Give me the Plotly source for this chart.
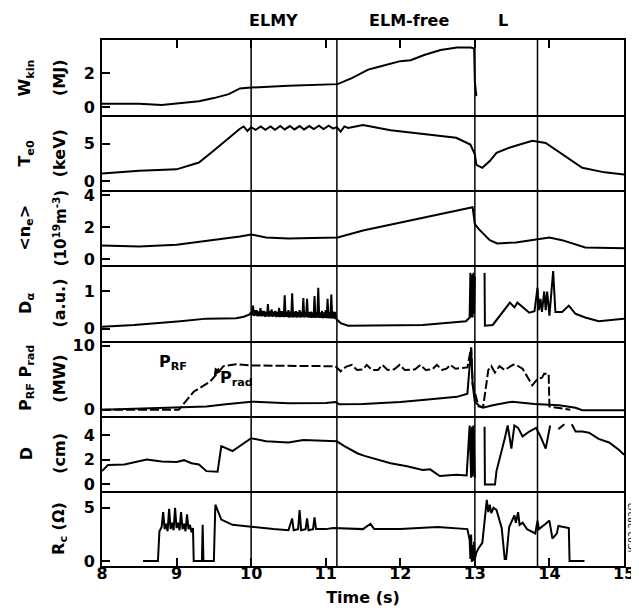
import plotly.graph_objects as go
from plotly.subplots import make_subplots

# ---------------- data ----------------
W_t = [8.0, 8.5, 8.8, 9.0, 9.3, 9.5, 9.7, 9.85, 10.0, 10.5, 11.0, 11.16, 11.35, 11.57, 11.74,
       12.0, 12.14, 12.32, 12.54, 12.76, 12.94, 12.99, 13.0, 13.02]
W_kin = [0.2, 0.2, 0.12, 0.23, 0.35, 0.53, 0.76, 1.1, 1.15, 1.25, 1.35, 1.35, 1.7, 2.2, 2.4,
         2.7, 2.75, 3.06, 3.35, 3.5, 3.5, 3.45, 1.5, 0.65]

Te_t = [8.0, 8.5, 9.0, 9.3, 9.5, 9.7, 9.85, 9.9, 9.95, 10.0, 10.06, 10.13, 10.19, 10.26, 10.32,
        10.39, 10.45, 10.52, 10.58, 10.65, 10.71, 10.78, 10.84, 10.91, 10.97, 11.04, 11.1, 11.15,
        11.2, 11.25, 11.3, 11.4, 11.5, 11.87, 12.3, 12.75, 12.94, 13.0, 13.02, 13.1, 13.2, 13.29,
        13.47, 13.77, 13.95, 14.17, 14.44, 14.74, 15.0]
Te0 = [1.05, 1.4, 1.6, 2.5, 4.1, 5.8, 7.0, 7.3, 6.7, 7.2, 6.85, 7.3, 6.85, 7.3, 6.85,
       7.35, 6.9, 7.35, 6.9, 7.35, 6.9, 7.35, 6.95, 7.4, 6.95, 7.4, 7.0, 7.2,
       6.6, 7.3, 7.1, 7.3, 7.5, 6.8, 6.3, 5.8, 4.9, 3.6, 2.2, 1.8, 2.7, 3.8,
       4.5, 5.4, 5.1, 3.6, 1.8, 1.2, 0.9]

ne_t = [8.0, 8.5, 9.0, 9.5, 9.85, 10.0, 10.2, 10.5, 11.0, 11.16, 11.5, 12.0, 12.5, 12.97,
        13.0, 13.05, 13.2, 13.3, 13.55, 14.0, 14.17, 14.48, 15.0]
ne = [0.87, 0.8, 0.92, 1.2, 1.43, 1.56, 1.37, 1.3, 1.37, 1.37, 1.8, 2.3, 2.8, 3.25,
      2.2, 1.9, 1.2, 1.0, 1.06, 1.37, 1.2, 0.75, 0.7]

Da_t = [8.0, 8.43, 9.05, 9.4, 9.8, 9.9, 9.98,
        10.0, 10.0125, 10.025, 10.0375, 10.05, 10.0625, 10.075, 10.0875, 10.1, 10.1125, 10.125,
        10.1375, 10.15, 10.1625, 10.175, 10.1875, 10.2, 10.2125, 10.225, 10.2375, 10.25, 10.2625,
        10.275, 10.2875, 10.3, 10.3125, 10.325, 10.3375, 10.35, 10.3625, 10.375, 10.3875, 10.4,
        10.4125, 10.425, 10.4375, 10.45, 10.4625, 10.475, 10.4875, 10.5, 10.5125, 10.525,
        10.5375, 10.55, 10.5625, 10.575, 10.5875, 10.6, 10.6125, 10.625, 10.6375, 10.65, 10.6625,
        10.675, 10.6875, 10.7, 10.7125, 10.725, 10.7375, 10.75, 10.7625, 10.775, 10.7875, 10.8,
        10.8125, 10.825, 10.8375, 10.85, 10.8625, 10.875, 10.8875, 10.9, 10.9125, 10.925,
        10.9375, 10.95, 10.9625, 10.975, 10.9875, 11.0, 11.0125, 11.025, 11.0375, 11.05, 11.0625,
        11.075, 11.0875, 11.1, 11.1125, 11.125, 11.1375, 11.15,
        11.2, 11.3, 12.3, 12.88, 12.93, 12.94, 12.95, 12.96, 12.97, 12.98, 12.99, 13.0, 13.01,
        13.13, 13.135, 13.24, 13.47, 13.53, 13.57, 13.73, 13.8, 13.84, 13.86, 13.88, 13.9,
        13.93, 13.95, 13.97, 14.0, 14.05, 14.08, 14.17, 14.26, 14.35, 14.48, 14.66, 15.0]
Da = [0.05, 0.1, 0.2, 0.27, 0.28, 0.32, 0.38,
      0.45, 0.36, 0.62, 0.34, 0.5, 0.35, 0.5, 0.33, 0.46, 0.34, 0.55,
      0.33, 0.48, 0.34, 0.48, 0.32, 0.45, 0.33, 0.66, 0.32, 0.47, 0.33,
      0.52, 0.32, 0.46, 0.33, 0.48, 0.31, 0.45, 0.32, 0.56, 0.31, 0.47,
      0.32, 0.47, 0.31, 0.9, 0.32, 0.46, 0.31, 0.5, 0.3, 0.46,
      0.31, 0.95, 0.3, 0.46, 0.31, 0.47, 0.3, 0.45, 0.31, 0.5, 0.3,
      0.45, 0.31, 0.82, 0.3, 0.45, 0.31, 0.8, 0.3, 0.44, 0.3, 0.46,
      0.29, 0.44, 0.3, 0.88, 0.29, 0.44, 0.3, 1.1, 0.29, 0.44,
      0.29, 0.48, 0.28, 0.44, 0.29, 0.5, 0.28, 0.8, 0.28, 0.45, 0.28,
      0.92, 0.28, 0.46, 0.27, 0.45, 0.27, 0.25,
      0.15, 0.08, 0.1, 0.2, 0.3, 1.5, 0.3, 1.45, 0.3, 1.5, 0.4, 1.4, None,
      1.5, 0.08, 0.1, 0.7, 0.57, 0.7, 0.43, 0.47, 1.1, 0.5, 0.8, 0.45,
      1.0, 0.5, 1.0, 0.35, 1.55, 0.45, 0.45, 0.62, 0.4, 0.3, 0.2, 0.27]

Prf_t = [8.0, 9.03, 9.23, 9.45, 9.63, 9.8, 10.0, 10.5, 11.0, 11.13, 11.2, 11.27, 11.35, 11.42,
         11.5, 11.55, 11.62, 11.7, 11.76, 11.83, 11.92, 11.99, 12.06, 12.2, 12.27, 12.34,
         12.43, 12.49, 12.56, 12.62, 12.67, 12.74, 12.9, 12.95, 12.97, 13.05, 13.11, 13.14,
         13.18, 13.22, 13.27, 13.33, 13.4, 13.51, 13.55, 13.64, 13.71, 13.77, 13.84, 13.9,
         13.93, 13.99, 14.0, 14.04, 14.28]
P_RF = [0.0, 0.0, 2.8, 4.4, 6.8, 7.1, 6.9, 6.8, 6.8, 6.8, 6.0, 6.7, 7.0, 6.2,
        6.3, 7.0, 6.2, 6.2, 7.0, 6.2, 6.3, 7.0, 6.2, 6.3, 7.0, 6.2,
        6.3, 7.0, 6.2, 6.4, 7.0, 6.4, 6.6, 9.7, 4.0, 0.5, 0.4, 2.8,
        6.2, 6.8, 5.8, 6.8, 6.2, 7.0, 7.0, 6.4, 5.0, 3.8, 4.8, 5.0,
        5.6, 5.6, 0.5, 0.4, 0.0]

Prad_t = [8.0, 9.4, 9.63, 10.0, 10.5, 11.0, 11.13, 11.18, 11.5, 12.0, 12.3, 12.58, 12.76,
          12.9, 12.95, 12.97, 13.0, 13.07, 13.11, 13.24, 13.5, 13.8, 14.13, 14.35, 14.44, 15.0]
P_rad = [0.0, 0.5, 0.8, 1.25, 1.0, 1.05, 1.2, 0.85, 0.9, 1.2, 1.5, 1.75, 2.0,
         2.5, 9.7, 4.0, 1.2, 0.5, 0.3, 0.7, 1.25, 0.9, 0.7, 0.3, -0.1, -0.1]

D_t = [8.0, 8.08, 8.3, 8.6, 8.8, 9.0, 9.1, 9.2, 9.3, 9.4, 9.55, 9.6, 9.75, 9.85, 10.0,
       10.2, 10.5, 10.7, 11.0, 11.15, 11.25, 11.43, 11.52, 11.65, 11.87, 12.09, 12.3, 12.4,
       12.53, 12.75, 12.89, 12.93, 12.95, 12.96, 12.97, 12.98, 13.0, 13.01,
       13.13, 13.135, 13.27, 13.29, 13.4, 13.44, 13.49, 13.53, 13.58, 13.64, 13.73, 13.82,
       13.88, 13.95, 14.01, 14.05, 14.12, 14.2, 14.25, 14.3, 14.35, 14.44, 14.53, 14.66,
       14.8, 14.93, 15.0]
D = [1.05, 1.55, 1.6, 2.0, 1.85, 1.8, 1.95, 1.7, 1.6, 1.05, 1.0, 3.1, 2.7, 3.1, 3.75,
     3.5, 3.4, 3.6, 3.5, 3.5, 3.1, 2.5, 2.3, 2.1, 1.7, 1.45, 1.15, 1.2,
     0.65, 0.76, 0.7, 4.8, 0.5, 4.7, 0.6, 4.8, 0.5, None,
     4.7, -0.05, -0.05, 1.05, 3.7, 4.8, 2.9, 4.8, 4.6, 3.9, 4.3, 4.6,
     3.9, 2.9, 4.8, None, 4.5, 4.9, None, 4.9, 4.3, 4.3, 4.2, 3.7,
     3.4, 2.8, 2.4]

Rc_t = [8.55, 8.75, 8.77, 8.8, 8.82, 8.84, 8.86, 8.88, 8.9, 8.92, 8.94, 8.96, 8.98, 9.0,
        9.02, 9.04, 9.06, 9.08, 9.1, 9.12, 9.14, 9.16, 9.18, 9.2, 9.22, 9.23, 9.34, 9.35,
        9.36, 9.5, 9.52, 9.56, 9.6, 9.75, 10.0, 10.3, 10.5, 10.55, 10.57, 10.63, 10.65,
        10.67, 10.73, 10.75, 10.77, 10.83, 10.85, 10.87, 11.0, 11.1, 11.5, 11.6, 11.65,
        12.0, 12.5, 12.9, 12.93, 12.94, 12.95, 12.96, 12.97, 12.98, 12.99, 13.0, 13.02,
        13.05, 13.1, 13.16, 13.18, 13.2, 13.22, 13.25, 13.29, 13.36, 13.4, 13.42, 13.46,
        13.53, 13.55, 13.58, 13.6, 13.64, 13.7, 13.81, 13.84, 13.86, 13.95, 14.0, 14.04,
        14.1, 14.12, 14.24, 14.26, 14.27, 14.47]
Rc = [0.0, 0.0, 2.8, 3.2, 4.6, 3.0, 3.5, 2.8, 4.9, 3.0, 3.6, 2.9, 5.0, 3.1,
      3.6, 2.9, 4.6, 3.0, 3.5, 2.8, 4.4, 3.0, 3.4, 2.7, 3.1, 0.0, 0.0, 3.4,
      0.0, 0.0, 5.3, 4.6, 3.9, 3.4, 3.2, 3.0, 2.9, 4.0, 2.9, 3.0, 4.8,
      2.9, 3.0, 4.0, 2.9, 3.0, 4.1, 3.0, 3.0, 3.1, 3.0, 3.5, 3.0,
      3.0, 3.2, 3.0, 2.0, 0.2, 2.5, -0.1, 1.5, 0.0, 1.8, 0.2, 0.8,
      1.2, 1.7, 5.75, 4.6, 5.3, 4.5, 5.0, 4.8, 3.1, 0.2, 0.2, 3.2,
      4.3, 3.6, 4.6, 3.4, 3.6, 3.0, 2.6, 3.8, 3.0, 3.5, 3.8, 2.1,
      2.6, 3.3, 3.1, 3.1, 0.0, 0.0]

panel_titles = [("W<sub>kin</sub>", "(MJ)"),
                ("T<sub>e0</sub>", "(keV)"),
                ("&lt;n<sub>e</sub>&gt;", "(10<sup>19</sup>m<sup>-3</sup>)"),
                ("D<sub>α</sub>", "(a.u.)"),
                ("P<sub>RF</sub> P<sub>rad</sub>", "(MW)"),
                ("D", "(cm)"),
                (None, "R<sub>c</sub> (Ω)")]
y_ranges = [[-0.47, 3.94], [-1.18, 8.8], [-0.375, 4.31], [-0.32, 1.70],
            [-0.95, 10.8], [-0.57, 5.6], [-0.47, 6.6]]
y_ticks = [[0, 2], [0, 5], [0, 2, 4], [0, 1], [0, 10], [0, 2, 4], [0, 5]]
x_ticks = [8, 9, 10, 11, 12, 13, 14, 15]
phase_lines = [10.0, 11.15, 13.0, 13.84]
phase_labels = [("ELMY", 10.3), ("ELM-free", 12.12), ("L", 13.38)]

# ---------------- figure ----------------
fig = make_subplots(rows=7, cols=1, shared_xaxes=True, vertical_spacing=0)
line = dict(color="black", width=2)

fig.add_trace(go.Scatter(x=W_t, y=W_kin, mode="lines", line=line), row=1, col=1)
fig.add_trace(go.Scatter(x=Te_t, y=Te0, mode="lines", line=line), row=2, col=1)
fig.add_trace(go.Scatter(x=ne_t, y=ne, mode="lines", line=line), row=3, col=1)
fig.add_trace(go.Scatter(x=Da_t, y=Da, mode="lines", line=line, connectgaps=False), row=4, col=1)
fig.add_trace(go.Scatter(x=Prf_t, y=P_RF, mode="lines",
                         line=dict(color="black", width=2, dash="9px,3px")), row=5, col=1)
fig.add_trace(go.Scatter(x=Prad_t, y=P_rad, mode="lines", line=line), row=5, col=1)
fig.add_trace(go.Scatter(x=D_t, y=D, mode="lines", line=line, connectgaps=False), row=6, col=1)
fig.add_trace(go.Scatter(x=Rc_t, y=Rc, mode="lines", line=line), row=7, col=1)

FAM = "DejaVu Sans, Arial, sans-serif"
tick_font = dict(family=FAM, size=16, color="black", weight="bold")
lab_font = dict(family=FAM, size=16, color="black", weight="bold")

for i in range(7):
    r = i + 1
    fig.update_yaxes(row=r, col=1, range=y_ranges[i], tickvals=y_ticks[i], ticks="inside",
                     ticklen=8, tickwidth=1.5, tickcolor="black", showline=True, mirror=True,
                     linecolor="black", linewidth=2, showgrid=False, zeroline=False,
                     tickfont=tick_font, ticklabelstandoff=2)
    fig.update_xaxes(row=r, col=1, range=[8, 15], tickvals=x_ticks, showline=True,
                     mirror=(r == 1), linecolor="black", linewidth=2, showgrid=False,
                     zeroline=False, ticks="" if r not in (1, 7) else "inside", ticklen=8,
                     tickwidth=1.5, tickcolor="black")
fig.update_xaxes(row=1, col=1, side="top", showticklabels=False)
fig.update_xaxes(row=7, col=1, showticklabels=True, tickfont=tick_font, ticklabelstandoff=-8,
                 title=dict(text="Time (s)", font=lab_font, standoff=10))

for xv in phase_lines:
    fig.add_shape(type="line", xref="x", yref="paper", x0=xv, x1=xv, y0=0, y1=1,
                  line=dict(color="black", width=1.5))

for txt, xv in phase_labels:
    fig.add_annotation(text=txt, x=xv, xref="x", y=1.0285, yref="paper", showarrow=False,
                       font=lab_font, yanchor="middle", yshift=5)

left_px, width_px = 94, 528
for i, (t1, t2) in enumerate(panel_titles):
    yref = "y domain" if i == 0 else f"y{i + 1} domain"
    if t1:
        fig.add_annotation(text=t1, xref="paper", x=(17 - left_px) / width_px, yref=yref, y=0.5,
                           textangle=-90, showarrow=False, font=lab_font, xanchor="center")
    f2 = dict(lab_font, size=15) if i == 2 else lab_font
    fig.add_annotation(text=t2, xref="paper", x=(51 - left_px) / width_px, yref=yref, y=0.5,
                       textangle=-90, showarrow=False, font=f2, xanchor="center")

fig.add_annotation(text="P<sub>RF</sub>", x=8.95, y=7.4, xref="x5", yref="y5", showarrow=False,
                   font=lab_font)
fig.add_annotation(text="P<sub>rad</sub>", x=9.8, y=4.9, xref="x5", yref="y5", showarrow=False,
                   font=lab_font)
fig.add_annotation(text="", x=9.5, y=5.3, xref="x5", yref="y5", showarrow=True, ax=6, ay=-9,
                   arrowhead=2, arrowsize=1, arrowwidth=1.5, arrowcolor="black")
fig.add_annotation(text="JG92.282/2", xref="paper", x=1.0, xanchor="left", xshift=1,
                   yref="y7 domain", y=0.5, textangle=-90, showarrow=False,
                   font=dict(family=FAM, size=9, color="black"))

fig.update_layout(width=639, height=610, margin=dict(l=94, r=17, t=32, b=52),
                  plot_bgcolor="white", paper_bgcolor="white", showlegend=False)

fig.write_html("out.html")
